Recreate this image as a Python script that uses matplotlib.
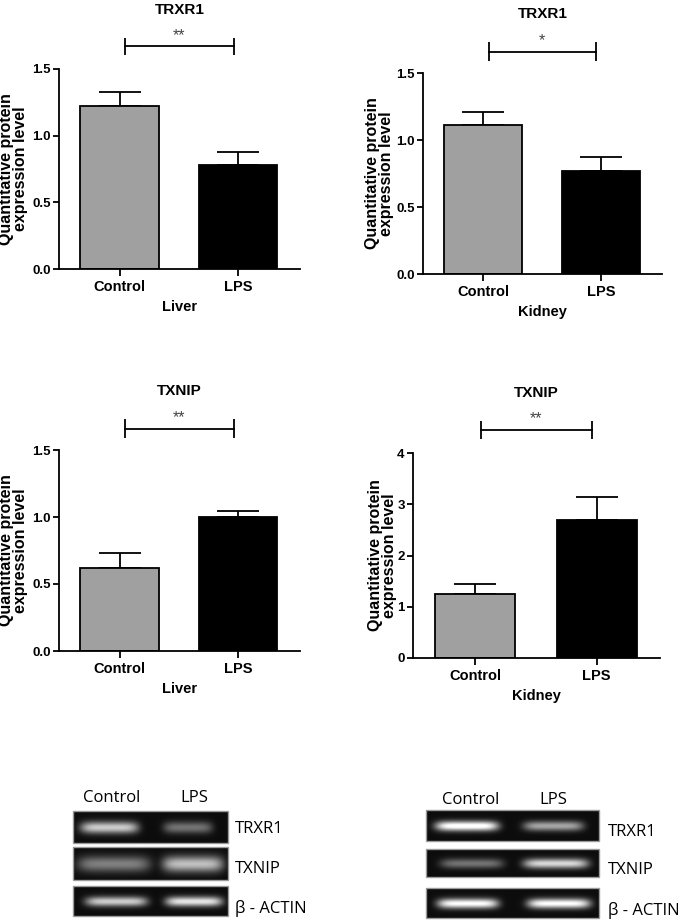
import numpy as np
import matplotlib.pyplot as plt
from matplotlib.patches import Rectangle

plt.rcParams['font.family'] = ['Liberation Sans', 'DejaVu Sans']

groups = ['Control', 'LPS']
bar_colors = ['#a0a0a0', '#000000']

# protein levels (mean, upper SEM)
liver_trxr1 = [1.225, 0.78]
liver_trxr1_err = [0.10, 0.10]
kidney_trxr1 = [1.11, 0.77]
kidney_trxr1_err = [0.10, 0.10]
liver_txnip = [0.62, 1.00]
liver_txnip_err = [0.11, 0.045]
kidney_txnip = [1.25, 2.69]
kidney_txnip_err = [0.19, 0.45]

# western blot band brightness, rows = TRXR1, TXNIP, beta-actin; cols = Control, LPS
blot_rows = ['TRXR1', 'TXNIP', 'β - ACTIN']
liver_bands = [[0.75, 0.40], [0.45, 0.70], [0.75, 0.85]]
kidney_bands = [[1.00, 0.60], [0.40, 0.80], [0.95, 0.95]]

W, H = 685, 922
fig = plt.figure(figsize=(W / 100, H / 100), dpi=100)

# pixel canvas for the blots
canvas = fig.add_axes([0, 0, 1, 1])
canvas.set_xlim(0, W)
canvas.set_ylim(H, 0)
canvas.axis('off')
canvas.patch.set_visible(False)


def px_rect(x0, x1, y0, y1):
  return [x0 / W, 1 - y1 / H, (x1 - x0) / W, (y1 - y0) / H]


def bar_panel(rect, values, errors, title, tissue, ymax, ticks, fmt, stars, sig_y, sig_h, label_x):
  ax = fig.add_axes(rect)
  x = np.arange(len(groups))
  ax.bar(x, values, width=0.66, color=bar_colors, edgecolor='black', linewidth=1.3, zorder=2)
  ax.errorbar(x, values, yerr=[np.zeros(len(values)), errors], fmt='none', ecolor='black',
              elinewidth=1.3, capsize=15, capthick=1.3, zorder=1)
  ax.set_xlim(-0.51, 1.52)
  ax.set_ylim(0, ymax)
  ax.set_yticks(ticks)
  ax.set_yticklabels([fmt % t for t in ticks], fontsize=9.5, fontweight='bold')
  ax.set_xticks(x)
  ax.set_xticklabels(groups, fontsize=10.5, fontweight='bold')
  for s in ['top', 'right']:
    ax.spines[s].set_visible(False)
  for s in ['left', 'bottom']:
    ax.spines[s].set_linewidth(1.3)
  ax.tick_params(axis='y', direction='out', length=4, width=1.3, pad=2)
  ax.tick_params(axis='x', direction='out', length=5, width=1.3, pad=3)
  ax.set_ylabel('Quantitative protein\nexpression level', fontsize=11.5, fontweight='bold', linespacing=0.95)
  ax.yaxis.set_label_coords(label_x, 0.5)
  ax.set_xlabel(tissue, fontsize=10.5, fontweight='bold', labelpad=4)
  ax.text(0.5, 1.295, title, transform=ax.transAxes, ha='center', va='center',
          fontsize=11, fontweight='bold')

  # significance bracket
  x0, x1 = 0.05, 0.96
  ax.plot([x0, x1], [sig_y, sig_y], color='black', lw=1.3, clip_on=False)
  ax.vlines([x0, x1], sig_y - sig_h, sig_y + sig_h, color='black', lw=1.3, clip_on=False)
  ax.text(0.5, sig_y + sig_h * 0.4, stars, ha='center', va='bottom', fontsize=11.5, color='#444444')
  return ax


bar_panel(px_rect(59, 300, 69, 269), liver_trxr1, liver_trxr1_err, 'TRXR1', 'Liver',
          1.5, [0, 0.5, 1.0, 1.5], '%.1f', '**', 1.67, 0.065, -0.129)
bar_panel(px_rect(423, 662, 73, 274), kidney_trxr1, kidney_trxr1_err, 'TRXR1', 'Kidney',
          1.5, [0, 0.5, 1.0, 1.5], '%.1f', '*', 1.66, 0.07, -0.12)
bar_panel(px_rect(59, 300, 450, 651), liver_txnip, liver_txnip_err, 'TXNIP', 'Liver',
          1.5, [0, 0.5, 1.0, 1.5], '%.1f', '**', 1.66, 0.07, -0.129)
bar_panel(px_rect(413, 660, 453, 658), kidney_txnip, kidney_txnip_err, 'TXNIP', 'Kidney',
          4, [0, 1, 2, 3, 4], '%d', '**', 4.45, 0.18, -0.065)


def band_image(spans, levels, width, height, thickness):
  xs = np.arange(width)[None, :]
  ys = np.arange(height)[:, None]
  img = np.full((height, width), 0.05)
  for (a, b), level in zip(spans, levels):
    c = (a + b) / 2
    half = (b - a) / 2
    horiz = np.exp(-np.abs((xs - c) / half) ** 6)
    vert = np.exp(-((ys - height / 2) / thickness) ** 2)
    img = img + level * horiz * vert
  return np.clip(img, 0, 1)


def blot(boxes, spans, levels, thick, lane_x, lane_y, label_x, label_y):
  for (x0, x1, y0, y1), sp, lv, th in zip(boxes, spans, levels, thick):
    img = band_image(sp, lv, int(x1 - x0), int(y1 - y0), th)
    canvas.imshow(img, cmap='gray', vmin=0, vmax=1, extent=(x0, x1, y1, y0),
                  aspect='auto', interpolation='bilinear')
    canvas.add_patch(Rectangle((x0, y0), x1 - x0, y1 - y0, fill=False, ec='#9a9a9a', lw=1))
  for g, lx in zip(groups, lane_x):
    canvas.text(lx, lane_y, g, ha='center', va='center', fontsize=12, family='Open Sans')
  for name, ly in zip(blot_rows, label_y):
    canvas.text(label_x, ly, name, ha='left', va='center', fontsize=12, family='Open Sans')


blot([(73, 228, 811, 843), (73, 228, 847, 880), (73, 228, 886, 916)],
     [[(7, 65), (90, 139)], [(4, 77), (89, 150)], [(12, 74), (92, 149)]],
     liver_bands, [6, 8, 5], [112, 194], 798, 235, [829, 869, 908])
blot([(426, 599, 810, 841), (426, 599, 849, 877), (426, 599, 888, 918)],
     [[(9, 72), (97, 157)], [(14, 77), (97, 162)], [(11, 72), (101, 164)]],
     kidney_bands, [5, 5, 5], [471, 553], 800, 608, [832, 870, 910])

canvas.set_xlim(0, W)
canvas.set_ylim(H, 0)

plt.savefig('out.png', dpi=100)
